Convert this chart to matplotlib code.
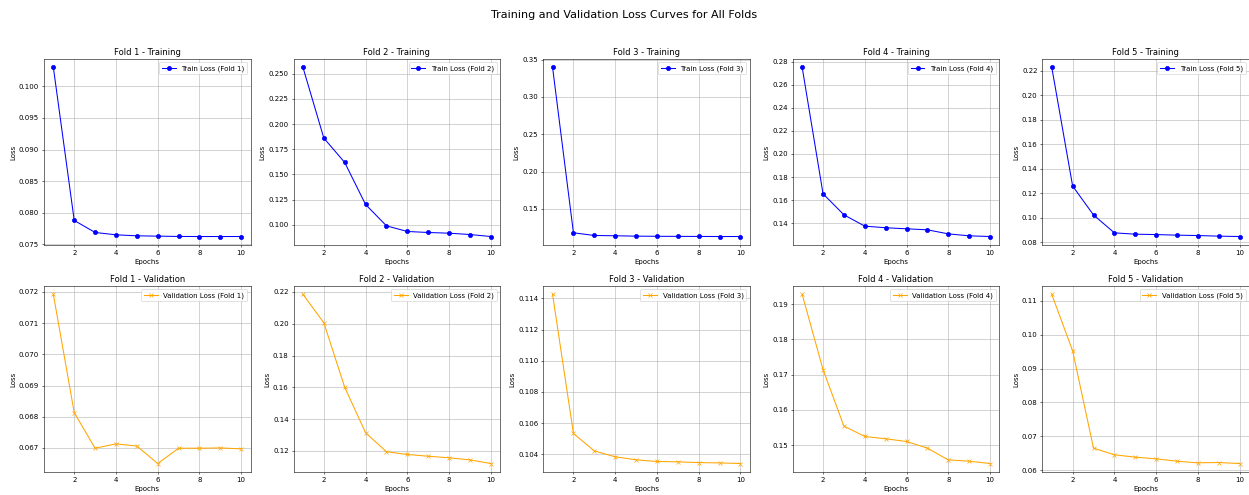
import numpy as np
import matplotlib
matplotlib.use("Agg")
import matplotlib.pyplot as plt

epochs = np.arange(1, 11)

train_fold1 = [0.1030, 0.0788, 0.0769, 0.07653, 0.07637, 0.07632, 0.07627, 0.07626, 0.07626, 0.07626]
train_fold2 = [0.2563, 0.1861, 0.1619, 0.1202, 0.0990, 0.0934, 0.0924, 0.0917, 0.0904, 0.0884]
train_fold3 = [0.3397, 0.1178, 0.1142, 0.1138, 0.1133, 0.1131, 0.1130, 0.1129, 0.1128, 0.1128]
train_fold4 = [0.2751, 0.1655, 0.1472, 0.1374, 0.1360, 0.1351, 0.1342, 0.1307, 0.1290, 0.1284]
train_fold5 = [0.2227, 0.1258, 0.1022, 0.0876, 0.0865, 0.0862, 0.0857, 0.0854, 0.0849, 0.0846]

val_fold1 = [0.07192, 0.06813, 0.06699, 0.06713, 0.06706, 0.06650, 0.06699, 0.06699, 0.06700, 0.06697]
val_fold2 = [0.2185, 0.2006, 0.1600, 0.1314, 0.1194, 0.1177, 0.1166, 0.1156, 0.1143, 0.1120]
val_fold3 = [0.11426, 0.10533, 0.10421, 0.10383, 0.10364, 0.10353, 0.10351, 0.10346, 0.10344, 0.10340]
val_fold4 = [0.19275, 0.17142, 0.15540, 0.15246, 0.15180, 0.15104, 0.14915, 0.14583, 0.14545, 0.14479]
val_fold5 = [0.11187, 0.09521, 0.06651, 0.06454, 0.06385, 0.06335, 0.06266, 0.06217, 0.06227, 0.06197]

train_losses = [train_fold1, train_fold2, train_fold3, train_fold4, train_fold5]
val_losses = [val_fold1, val_fold2, val_fold3, val_fold4, val_fold5]

fig, axes = plt.subplots(2, 5, figsize=(24.98, 9.9), dpi=50)
fig.suptitle('Training and Validation Loss Curves for All Folds', fontsize=16, y=0.98)

for i in range(5):
    ax = axes[0, i]
    ax.plot(epochs, train_losses[i], marker='o', color='blue', label=f'Train Loss (Fold {i + 1})')
    ax.set_title(f'Fold {i + 1} - Training')
    ax.set_xlabel('Epochs')
    ax.set_ylabel('Loss')
    ax.legend(loc='upper right')
    ax.grid(True)

    ax = axes[1, i]
    ax.plot(epochs, val_losses[i], marker='x', color='orange', label=f'Validation Loss (Fold {i + 1})')
    ax.set_title(f'Fold {i + 1} - Validation')
    ax.set_xlabel('Epochs')
    ax.set_ylabel('Loss')
    ax.legend(loc='upper right')
    ax.grid(True)

plt.subplots_adjust(left=0.0352, right=1.0, top=0.881, bottom=0.0465, wspace=0.208, hspace=0.22)
plt.savefig('out.png', dpi=50)
